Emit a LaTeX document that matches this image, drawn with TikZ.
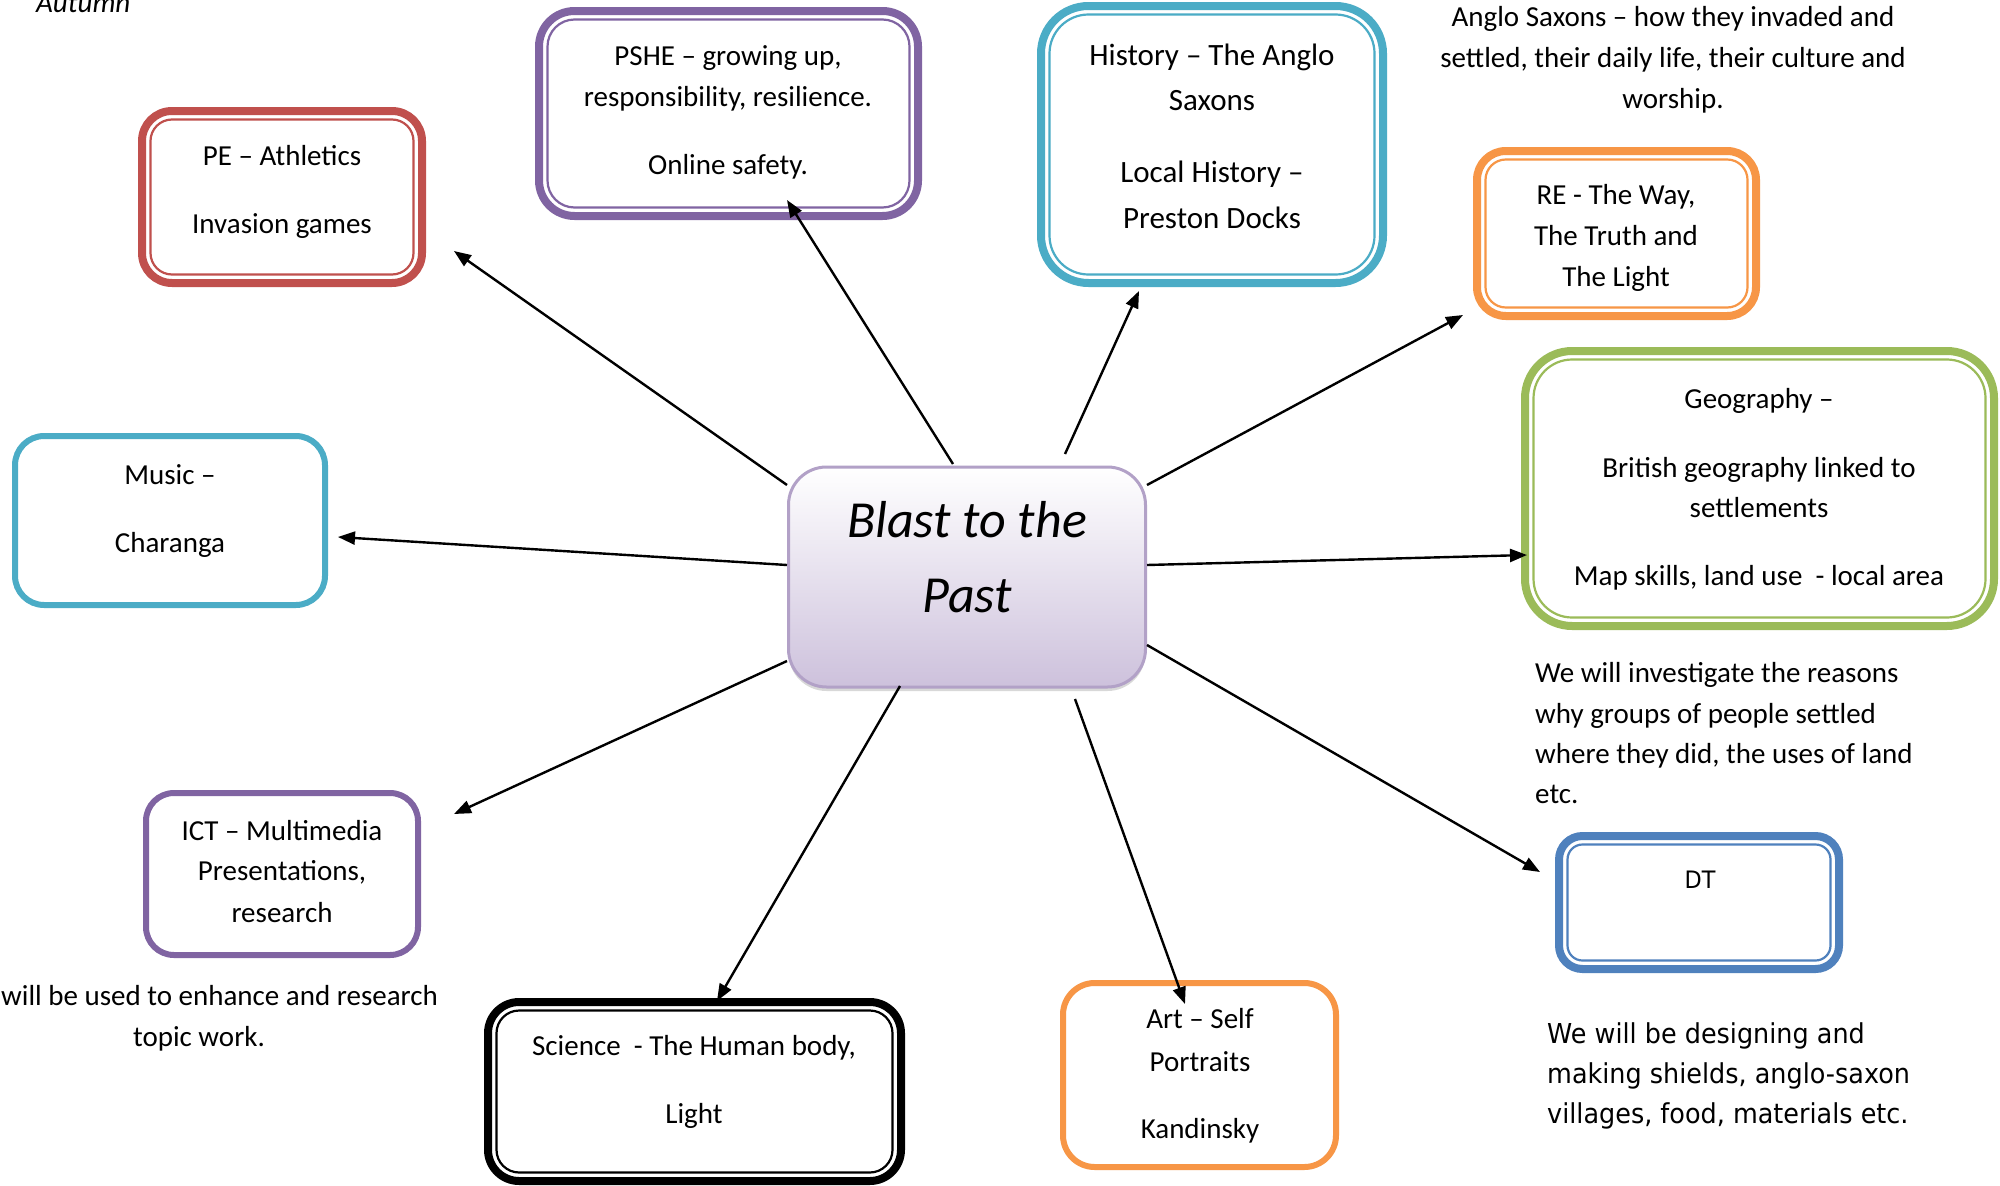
\documentclass[tikz,border=0pt]{standalone}
\usepackage{fontspec}
\setmainfont{Carlito}
\newfontfamily\tahoma[FakeStretch=0.93]{DejaVu Sans}
\usetikzlibrary{arrows.meta,calc,shadows}
\definecolor{cred}{HTML}{C0504D}
\definecolor{cpurple}{HTML}{8064A2}
\definecolor{caqua}{HTML}{4BACC6}
\definecolor{corange}{HTML}{F79646}
\definecolor{cgreen}{HTML}{9BBB59}
\definecolor{cblue}{HTML}{4F81BD}
\definecolor{clavb}{HTML}{B2A1C7}
\definecolor{clavf}{HTML}{CDC1DC}
% single thick border box: name, x1, y1, x2, y2, colour
\newcommand\mkbox[6]{%
  \pgfmathsetmacro\bw{#4-#2}\pgfmathsetmacro\bh{#5-#3}%
  \pgfmathsetmacro\br{min(\bw,\bh)/6}%
  \node[draw=#6, line width=6pt, rounded corners=\br pt,
        minimum width=\bw pt-6pt, minimum height=\bh pt-6pt,
        inner sep=0pt, outer sep=0pt] (#1) at ({(#2+#4)/2},{(#3+#5)/2}) {};}
% thick-thin double border box
\newcommand\mkdbox[6]{%
  \pgfmathsetmacro\bw{#4-#2}\pgfmathsetmacro\bh{#5-#3}%
  \pgfmathsetmacro\br{min(\bw,\bh)/6}%
  \pgfmathsetmacro\bri{max(\br-8.5,4)}%
  \node[draw=#6, line width=8pt, rounded corners=\br pt,
        minimum width=\bw pt-8pt, minimum height=\bh pt-8pt,
        inner sep=0pt, outer sep=0pt] (#1) at ({(#2+#4)/2},{(#3+#5)/2}) {};
  \draw[#6, line width=2.2pt, rounded corners=\bri pt]
    ([shift={(8.5,8.5)}]#1.north west) rectangle ([shift={(-8.5,-8.5)}]#1.south east);}
\begin{document}
\begin{tikzpicture}[x=1pt,y=-1pt,
  txt/.style={anchor=base, inner sep=0pt, font=\fontsize{29}{35}\selectfont},
  htxt/.style={anchor=base, inner sep=0pt, font=\fontsize{31}{37}\selectfont},
  ltxt/.style={anchor=base west, inner sep=0pt, font=\fontsize{29}{35}\selectfont},
  ctxt/.style={anchor=base, inner sep=0pt, font=\fontsize{52}{60}\selectfont\itshape},
  dtxt/.style={anchor=base west, inner sep=0pt, font=\tahoma\fontsize{27.4}{33}\selectfont},
  arr/.style={line width=2.4pt, -{Triangle[length=17pt,width=13pt]}},
]
\fill[white] (0,0) rectangle (2000,1186);
\useasboundingbox (0,0) rectangle (2000,1186);
\clip (0,0) rectangle (2000,1186);

\node[anchor=base west, inner sep=0pt, font=\fontsize{29}{35}\selectfont\itshape] (aut) at (36,12) {Autumn};

% boxes
\mkdbox{pe}{138}{107}{426}{287}{cred}
\mkdbox{pshe}{535}{7}{922}{220}{cpurple}
\mkdbox{hist}{1037}{2}{1387}{287}{caqua}
\mkdbox{re}{1473}{147}{1760}{320}{corange}
\mkdbox{geo}{1521}{347}{1998}{630}{cgreen}
\mkbox{music}{12}{433}{328}{608}{caqua}
\mkbox{ict}{143}{790}{421}{958}{cpurple}
\mkdbox{sci}{484}{998}{905}{1185}{black}
\mkbox{art}{1060}{980}{1339}{1170}{corange}
\mkdbox{dt}{1555}{832}{1843}{973}{cblue}

% centre
\node[draw=clavb, line width=3pt, rounded corners=38pt, top color=white, bottom color=clavf,
      minimum width=357pt, minimum height=220pt, inner sep=0pt, outer sep=0pt,
      drop shadow={shadow xshift=0pt, shadow yshift=-4pt, opacity=0.3}] (c) at (967,577) {};
\node[ctxt] (c1) at (967,537) {Blast to the};
\node[ctxt] (c2) at (967,612) {Past};

% texts
\node[txt] (pe1) at (282,165) {PE – Athletics};
\node[txt] (pe2) at (282,233) {Invasion games};

\node[txt] (ps1) at (728,65) {PSHE – growing up,};
\node[txt] (ps2) at (728,106) {responsibility, resilience.};
\node[txt] (ps3) at (728,174) {Online safety.};

\node[htxt] (h1) at (1212,65) {History – The Anglo};
\node[htxt] (h2) at (1212,110) {Saxons};
\node[htxt] (h3) at (1212,182) {Local History –};
\node[htxt] (h4) at (1212,228) {Preston Docks};

\node[txt] (a1) at (1673,26) {Anglo Saxons – how they invaded and};
\node[txt] (a2) at (1673,67) {settled, their daily life, their culture and};
\node[txt] (a3) at (1673,108) {worship.};

\node[txt] (r1) at (1616,204) {RE - The Way,};
\node[txt] (r2) at (1616,245) {The Truth and};
\node[txt] (r3) at (1616,286) {The Light};

\node[txt] (g1) at (1759,408) {Geography –};
\node[txt] (g2) at (1759,477) {British geography linked to};
\node[txt] (g3) at (1759,517) {settlements};
\node[txt] (g4) at (1759,585) {Map skills, land use \ - local area};

\node[ltxt] (gp1) at (1535,682) {We will investigate the reasons};
\node[ltxt] (gp2) at (1535,723) {why groups of people settled};
\node[ltxt] (gp3) at (1535,763) {where they did, the uses of land};
\node[ltxt] (gp4) at (1535,803) {etc.};

\node[txt] (m1) at (170,484) {Music –};
\node[txt] (m2) at (170,552) {Charanga};

\node[txt] (i1) at (282,840) {ICT – Multimedia};
\node[txt] (i2) at (282,880) {Presentations,};
\node[txt] (i3) at (282,922) {research};
\node[ltxt] (ip1) at (1,1005) {will be used to enhance and research};
\node[txt] (ip2) at (199,1046) {topic work.};

\node[txt] (s1) at (694,1055) {Science \ - The Human body,};
\node[txt] (s2) at (694,1123) {Light};

\node[txt] (ar1) at (1200,1028) {Art – Self};
\node[txt] (ar2) at (1200,1071) {Portraits};
\node[txt] (ar3) at (1200,1138) {Kandinsky};

\node[anchor=base, inner sep=0pt, font=\tahoma\fontsize{24}{29}\selectfont] (dt1) at (1700,888) {DT};
\node[dtxt] (d1) at (1547,1043) {We will be designing and};
\node[dtxt] (d2) at (1547,1083) {making shields, anglo-saxon};
\node[dtxt] (d3) at (1547,1123) {villages, food, materials etc.};

% connector ends
\coordinate (cPE) at (787,485);   \coordinate (tPE) at (454,251);
\coordinate (cPS) at (953,464);   \coordinate (tPS) at (787,200);
\coordinate (cHI) at (1065,454);  \coordinate (tHI) at (1139,291);
\coordinate (cRE) at (1147,485);  \coordinate (tRE) at (1463,315);
\coordinate (cGE) at (1147,565);  \coordinate (tGE) at (1527,555);
\coordinate (cMU) at (787,565);   \coordinate (tMU) at (338,537);
\coordinate (cIC) at (787,661);   \coordinate (tIC) at (454,814);
\coordinate (cSC) at (900,686);   \coordinate (tSC) at (717,1001);
\coordinate (cAR) at (1075,699);  \coordinate (tAR) at (1185,1004);
\coordinate (cDT) at (1147,645);  \coordinate (tDT) at (1540,872);

\draw[arr] (cPE) -- (tPE);
\draw[arr] (cPS) -- (tPS);
\draw[arr] (cHI) -- (tHI);
\draw[arr] (cRE) -- (tRE);
\draw[arr] (cGE) -- (tGE);
\draw[arr] (cMU) -- (tMU);
\draw[arr] (cIC) -- (tIC);
\draw[arr] (cSC) -- (tSC);
\draw[arr] (cAR) -- (tAR);
\draw[arr] (cDT) -- (tDT);
\end{tikzpicture}
\end{document}
